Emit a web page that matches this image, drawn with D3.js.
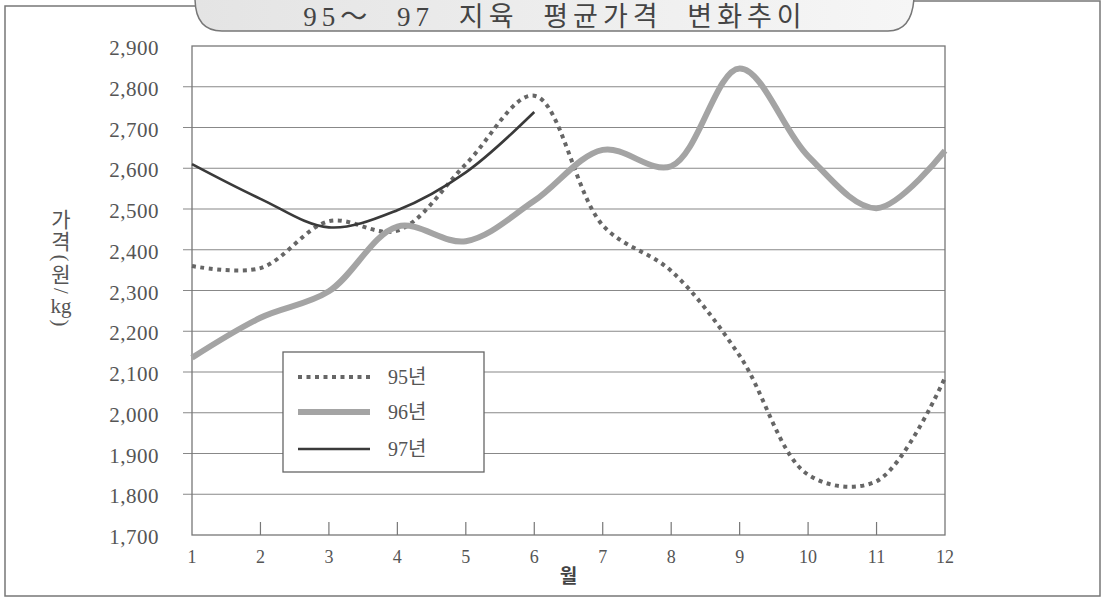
<!DOCTYPE html>
<html>
<head>
<meta charset="utf-8">
<script src="https://cdn.jsdelivr.net/npm/d3@7"></script>
<style>
body { margin: 0; background: #fff; }
svg { display: block; }
text { font-family: "Liberation Serif", "Noto Sans CJK KR", serif; fill: #555; }
</style>
</head>
<body>
<div id="chart"></div>
<script>
// monthly data
var months = [1, 2, 3, 4, 5, 6, 7, 8, 9, 10, 11, 12];
var price95 = [2360, 2355, 2470, 2447, 2610, 2778, 2460, 2348, 2140, 1848, 1832, 2086];
var price96 = [2135, 2233, 2298, 2457, 2421, 2520, 2645, 2605, 2845, 2630, 2502, 2643];
var price97 = [2610, 2525, 2455, 2497, 2590, 2738];
var yTicks = [1700, 1800, 1900, 2000, 2100, 2200, 2300, 2400, 2500, 2600, 2700, 2800, 2900];
var seriesNames = ["95년", "96년", "97년"];
var titleWords = ["95～", "97", "지육", "평균가격", "변화추이"];

var svgWidth = 1104;
var svgHeight = 598;

var margin = {top: 46, right: 159, bottom: 63, left: 192};
var width = svgWidth - margin.left - margin.right;
var height = svgHeight - margin.top - margin.bottom;

var svg = d3.select("#chart")
    .append("svg")
    .attr("width", svgWidth)
    .attr("height", svgHeight);

// gradient for the title tab
var grad = svg.append("defs").append("linearGradient")
    .attr("id", "tabFill")
    .attr("x1", "0").attr("x2", "1").attr("y1", "0").attr("y2", "0");
grad.append("stop").attr("offset", "0").attr("stop-color", "#e4e4e4");
grad.append("stop").attr("offset", "1").attr("stop-color", "#f6f6f6");

// outer frame
svg.append("path")
    .attr("d", "M197,6 L5,6 L5,596 L1100,596 L1100,1 L912,1")
    .attr("fill", "none")
    .attr("stroke", "#777")
    .attr("stroke-width", 1.5);

// title tab
svg.append("path")
    .attr("d", "M195,-2 Q195,31 222,31 L888,31 Q912,31 914,-2 Z")
    .attr("fill", "url(#tabFill)")
    .attr("stroke", "#777")
    .attr("stroke-width", 1.5);

svg.append("text")
    .attr("x", 555)
    .attr("y", 26)
    .attr("text-anchor", "middle")
    .style("font-size", "27px")
    .style("letter-spacing", "5px")
    .style("word-spacing", "13px")
    .style("fill", "#444")
    .text(titleWords.join(" "));

var chartGroup = svg.append("g")
    .attr("transform", `translate(${margin.left}, ${margin.top})`);

var xScale = d3.scaleLinear()
    .domain([1, 12])
    .range([0, width]);

var yScale = d3.scaleLinear()
    .domain([1700, 2900])
    .range([height, 0]);

// gridlines with little outside ticks on the left
chartGroup.selectAll(".grid")
    .data(yTicks.slice(1, -1))
    .enter()
    .append("line")
    .attr("class", "grid")
    .attr("x1", -9)
    .attr("x2", width)
    .attr("y1", d => yScale(d))
    .attr("y2", d => yScale(d))
    .attr("stroke", "#888")
    .attr("stroke-width", 1.2);

// plot border
chartGroup.append("rect")
    .attr("x", 0)
    .attr("y", 0)
    .attr("width", width)
    .attr("height", height)
    .attr("fill", "none")
    .attr("stroke", "#777")
    .attr("stroke-width", 1.3);

// y tick labels
chartGroup.selectAll(".ylab")
    .data(yTicks)
    .enter()
    .append("text")
    .attr("class", "ylab")
    .attr("x", -33)
    .attr("y", d => yScale(d) + 9)
    .attr("text-anchor", "end")
    .style("font-size", "21px")
    .style("letter-spacing", "0.5px")
    .text(d => d3.format(",")(d));

// x ticks pointing up from the bottom
chartGroup.selectAll(".xtick")
    .data(months.slice(1, -1))
    .enter()
    .append("line")
    .attr("class", "xtick")
    .attr("x1", d => xScale(d))
    .attr("x2", d => xScale(d))
    .attr("y1", height)
    .attr("y2", height - 13)
    .attr("stroke", "#777")
    .attr("stroke-width", 1.2);

chartGroup.selectAll(".xlab")
    .data(months)
    .enter()
    .append("text")
    .attr("class", "xlab")
    .attr("x", d => xScale(d))
    .attr("y", height + 28)
    .attr("text-anchor", "middle")
    .style("font-size", "18px")
    .text(d => d);

chartGroup.append("text")
    .attr("x", xScale(6.5))
    .attr("y", height + 48)
    .attr("text-anchor", "middle")
    .style("font-size", "19px")
    .style("font-weight", "bold")
    .style("fill", "#444")
    .text("월");

// vertical y axis label, one glyph per line, brackets and slash turned
var yLabelParts = [
    {t: "가", y: 220, rot: false},
    {t: "격", y: 242, rot: false},
    {t: "(", y: 258, rot: true},
    {t: "원", y: 275, rot: false},
    {t: "/", y: 291, rot: true},
    {t: "kg", y: 306, rot: false},
    {t: ")", y: 323, rot: true}
];
svg.selectAll(".ylabel")
    .data(yLabelParts)
    .enter()
    .append("text")
    .attr("class", "ylabel")
    .attr("x", 61)
    .attr("y", d => d.y + 7)
    .attr("text-anchor", "middle")
    .attr("transform", d => d.rot ? `rotate(90, 61, ${d.y})` : null)
    .style("font-size", "21px")
    .text(d => d.t);

// lines
var line = d3.line()
    .x((d, i) => xScale(months[i]))
    .y(d => yScale(d))
    .curve(d3.curveCatmullRom.alpha(0.5));

var styles = [
    {data: price95, color: "#666", w: 4, dash: "4,4.5"},
    {data: price96, color: "#a4a4a4", w: 6, dash: null},
    {data: price97, color: "#3a3a3a", w: 2.6, dash: null}
];

styles.forEach(function(s) {
    chartGroup.append("path")
        .attr("d", line(s.data))
        .attr("fill", "none")
        .attr("stroke", s.color)
        .attr("stroke-width", s.w)
        .attr("stroke-dasharray", s.dash)
        .attr("stroke-linejoin", "round");
});

// legend
var legend = svg.append("g").attr("transform", "translate(283, 352)");
legend.append("rect")
    .attr("width", 201)
    .attr("height", 120)
    .attr("fill", "#fff")
    .attr("stroke", "#666")
    .attr("stroke-width", 1.3);

var legendRows = [25, 60, 97];
styles.forEach(function(s, i) {
    legend.append("line")
        .attr("x1", 15)
        .attr("x2", 87)
        .attr("y1", legendRows[i])
        .attr("y2", legendRows[i])
        .attr("stroke", s.color)
        .attr("stroke-width", s.w)
        .attr("stroke-dasharray", s.dash);
    legend.append("text")
        .attr("x", 105)
        .attr("y", legendRows[i] + 7)
        .style("font-size", "20px")
        .text(seriesNames[i]);
});
</script>
</body>
</html>
